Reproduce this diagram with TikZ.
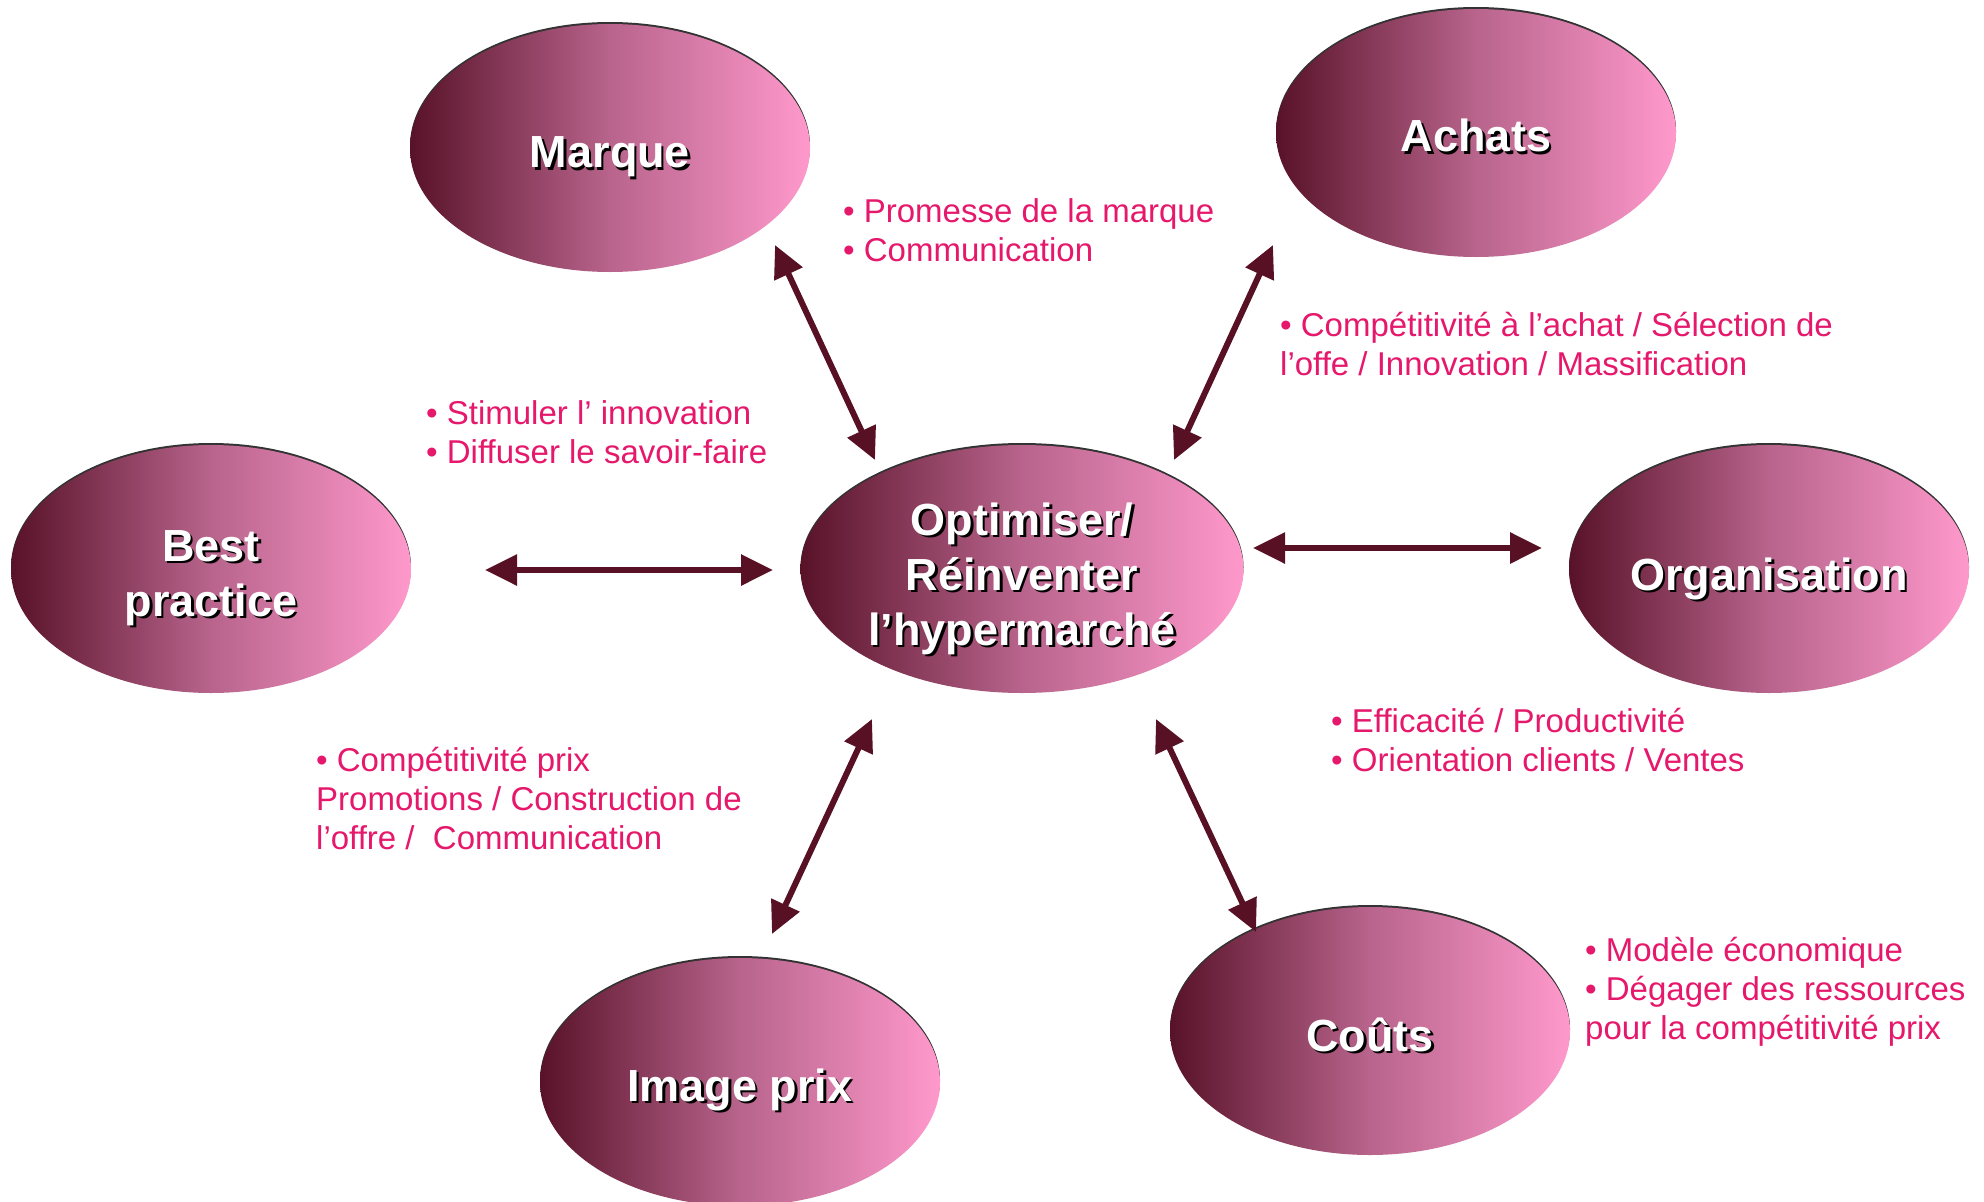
\documentclass[tikz,border=0pt]{standalone}
\usepackage{fontspec}
\setmainfont{Liberation Sans}
\usetikzlibrary{shapes.geometric,arrows.meta,shadows}
\definecolor{cdark}{RGB}{88,18,40}
\definecolor{cmid}{RGB}{184,100,140}
\definecolor{cpink}{RGB}{255,153,204}
\definecolor{arrc}{RGB}{88,17,36}
\definecolor{txtc}{RGB}{230,24,108}
\newcommand{\shd}[1]{\leavevmode\rlap{\hspace{2.5pt}\raisebox{-2.5pt}{\color{black}#1}}#1}
\begin{document}
\begin{tikzpicture}[x=1pt,y=-1pt,
 bubble/.style={ellipse, minimum width=400pt, minimum height=248pt, inner sep=0pt,
   left color=cdark, right color=cpink, middle color=cmid,
   general shadow={fill=black!80, shadow yshift=2pt}},
 title/.style={inner sep=0pt, text=white, font=\fontsize{45}{55}\selectfont\bfseries, align=center},
 lbl/.style={anchor=base west, inner sep=0pt, align=left, text=txtc,
   font=\fontsize{33}{39}\selectfont},
 arr/.style={draw=arrc, line width=6pt,
   {Triangle[length=32pt,width=30pt]}-{Triangle[length=32pt,width=30pt]}}]
\fill[white] (0,0) rectangle (1984,1202);
\useasboundingbox (0,0) rectangle (1984,1202);

% bubbles
\node[bubble] (marque) at (610,148) {};
\node[bubble] (achats) at (1476,133) {};
\node[bubble] (best) at (211,569) {};
\node[bubble, minimum width=443pt] (centre) at (1022,569) {};
\node[bubble] (orga) at (1769,569) {};
\node[bubble] (image) at (740,1082) {};
\node[bubble] (couts) at (1370,1031) {};

% titles
\node[title] (tmarque) at ([yshift=-10pt]marque.center) {\shd{Marque}};
\node[title] (tachats) at ([yshift=-4pt]achats.center) {\shd{Achats}};
\node[title] (tbest) at ([yshift=-10pt]best.center) {\shd{Best}\\\shd{practice}};
\node[title] (tcentre) at ([yshift=-11pt]centre.center) {\shd{Optimiser/}\\\shd{Réinventer}\\\shd{l’hypermarché}};
\node[title] (torga) at ([yshift=-11pt]orga.center) {\shd{Organisation}};
\node[title] (timage) at ([yshift=-9pt]image.center) {\shd{Image prix}};
\node[title] (tcouts) at ([yshift=-5pt]couts.center) {\shd{Coûts}};

% arrow ends
\coordinate (m1) at (775,245);  \coordinate (m2) at (875,460);
\coordinate (a1) at (1273,245); \coordinate (a2) at (1174,460);
\coordinate (b1) at (485,570);  \coordinate (b2) at (773,570);
\coordinate (o1) at (1253,548); \coordinate (o2) at (1542,548);
\coordinate (i1) at (872,719);  \coordinate (i2) at (772,934);
\coordinate (c1) at (1156,719); \coordinate (c2) at (1256,932);

\draw[arr] (m1) -- (m2);
\draw[arr] (a1) -- (a2);
\draw[arr] (b1) -- (b2);
\draw[arr] (o1) -- (o2);
\draw[arr] (i1) -- (i2);
\draw[arr] (c1) -- (c2);

% labels (anchored at the baseline of their last line)
\node[lbl] (lmarque) at (843,261) {\textbullet\ Promesse de la marque\\\textbullet\ Communication};
\node[lbl] (lachats) at (1280,375) {\textbullet\ Compétitivité à l’achat / Sélection de\\l’offe / Innovation / Massification};
\node[lbl] (lbest) at (426,463) {\textbullet\ Stimuler l’ innovation\\\textbullet\ Diffuser le savoir-faire};
\node[lbl] (limage) at (316,849) {\textbullet\ Compétitivité prix\\Promotions / Construction de\\l’offre /\ \ Communication};
\node[lbl] (lorga) at (1331,771) {\textbullet\ Efficacité / Productivité\\\textbullet\ Orientation clients / Ventes};
\node[lbl] (lcouts) at (1585,1039) {\textbullet\ Modèle économique\\\textbullet\ Dégager des ressources\\pour la compétitivité prix};
\end{tikzpicture}
\end{document}
